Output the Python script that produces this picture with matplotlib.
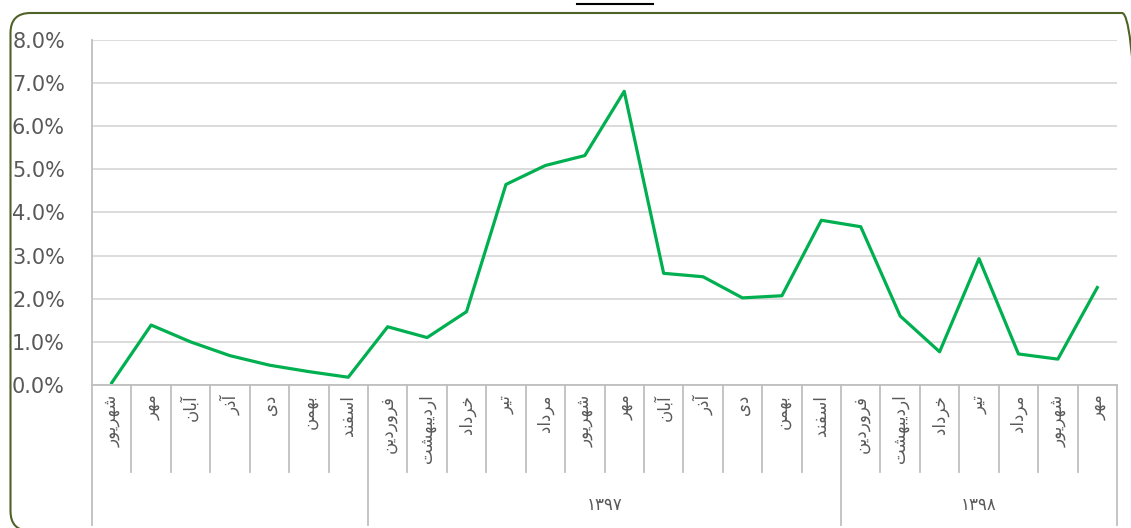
import matplotlib
matplotlib.use("Agg")
import matplotlib.pyplot as plt
from matplotlib.lines import Line2D
from matplotlib.patches import FancyBboxPatch
from matplotlib.ticker import FuncFormatter, MultipleLocator
from matplotlib.transforms import IdentityTransform, blended_transform_factory

# Monthly rate, Shahrivar 1396 .. Mehr 1398 (percent)
months = [
    "شهریور", "مهر", "آبان", "آذر", "دی", "بهمن", "اسفند",
    "فروردین", "اردیبهشت", "خرداد", "تیر", "مرداد", "شهریور",
    "مهر", "آبان", "آذر", "دی", "بهمن", "اسفند",
    "فروردین", "اردیبهشت", "خرداد", "تیر", "مرداد", "شهریور", "مهر",
]
values = [
    0.05, 1.39, 1.00, 0.68, 0.46, 0.31, 0.18,
    1.35, 1.10, 1.70, 4.65, 5.09, 5.32,
    6.81, 2.59, 2.51, 2.02, 2.07, 3.82,
    3.67, 1.60, 0.77, 2.93, 0.72, 0.60, 2.26,
]
years = ["", "۱۳۹۷", "۱۳۹۸"]
year_sizes = [7, 12, 7]

LINE = "#00B050"
GRID = "#D9D9D9"
AXIS = "#BFBFBF"
TEXT = "#595959"
FRAME = "#4F6228"

# matplotlib has no Arabic shaping, so map letters to presentation forms
# (isolated, final, initial, medial) and reverse into visual order
FORMS = {
    "\u0627": ("\uFE8D", "\uFE8E", None, None),
    "\u0622": ("\uFE81", "\uFE82", None, None),
    "\u0628": ("\uFE8F", "\uFE90", "\uFE91", "\uFE92"),
    "\u062A": ("\uFE95", "\uFE96", "\uFE97", "\uFE98"),
    "\u062E": ("\uFEA5", "\uFEA6", "\uFEA7", "\uFEA8"),
    "\u062F": ("\uFEA9", "\uFEAA", None, None),
    "\u0630": ("\uFEAB", "\uFEAC", None, None),
    "\u0631": ("\uFEAD", "\uFEAE", None, None),
    "\u0633": ("\uFEB1", "\uFEB2", "\uFEB3", "\uFEB4"),
    "\u0634": ("\uFEB5", "\uFEB6", "\uFEB7", "\uFEB8"),
    "\u0641": ("\uFED1", "\uFED2", "\uFED3", "\uFED4"),
    "\u0645": ("\uFEE1", "\uFEE2", "\uFEE3", "\uFEE4"),
    "\u0646": ("\uFEE5", "\uFEE6", "\uFEE7", "\uFEE8"),
    "\u0647": ("\uFEE9", "\uFEEA", "\uFEEB", "\uFEEC"),
    "\u0648": ("\uFEED", "\uFEEE", None, None),
    "\u06CC": ("\uFEEF", "\uFEF0", "\uFEF3", "\uFEF4"),
}


def shape(word):
    out = []
    for i, ch in enumerate(word):
        if ch not in FORMS:
            out.append(ch)
            continue
        prev = word[i - 1] if i > 0 else None
        nxt = word[i + 1] if i < len(word) - 1 else None
        jp = prev in FORMS and FORMS[prev][2] is not None
        jn = nxt in FORMS and FORMS[ch][2] is not None
        iso, fin, ini, med = FORMS[ch]
        if jp and jn:
            out.append(med)
        elif jp:
            out.append(fin)
        elif jn:
            out.append(ini)
        else:
            out.append(iso)
    return "".join(reversed(out))


W, H = 1131, 528
fig = plt.figure(figsize=(W / 100, H / 100), dpi=100)
ax = fig.add_axes([92 / W, (H - 385) / H, (1117 - 92) / W, (385 - 40) / H])

x = list(range(len(values)))
ax.plot(x, values, color=LINE, lw=2.3)

ax.set_xlim(-0.5, len(values) - 0.5)
ax.set_ylim(0, 8)
ax.yaxis.set_major_locator(MultipleLocator(1))
ax.yaxis.set_major_formatter(FuncFormatter(lambda v, p: f"{v:.1f}%"))
ax.grid(axis="y", color=GRID, lw=1.3)
ax.set_axisbelow(True)
for s in ["top", "right"]:
    ax.spines[s].set_visible(False)
for s in ["left", "bottom"]:
    ax.spines[s].set_color(AXIS)
    ax.spines[s].set_linewidth(1.3)

ax.set_xticks(x, [shape(m) for m in months], rotation=90, family="DejaVu Sans")
ax.tick_params(axis="y", length=0, pad=19.5, labelsize=15, labelcolor=TEXT)
ax.tick_params(axis="x", length=0, pad=7, labelsize=12, labelcolor=TEXT)

# category separators and year groups under the axis
trans = blended_transform_factory(ax.transData, ax.transAxes)
bounds = set()
pos = 0
for size in year_sizes:
    pos += size
    bounds.add(pos)
for k in range(0, len(values) + 1):
    low = -0.406 if (k == 0 or k in bounds) else -0.252
    ax.plot([k - 0.5, k - 0.5], [0, low], transform=trans, clip_on=False,
            color=AXIS, lw=1.3)

start = 0
for label, size in zip(years, year_sizes):
    center = start + (size - 1) / 2
    if label:
        ax.text(center, -0.348, label, transform=trans, ha="center", va="center",
                fontsize=12, color=TEXT, family="DejaVu Sans")
    start += size

# rounded chart frame and the clipped title underline
frame = FancyBboxPatch((10.5, -3), 1131.5, 518, boxstyle="round,pad=0,rounding_size=20",
                       transform=IdentityTransform(), fill=False, edgecolor=FRAME, lw=1.5)
fig.add_artist(frame)
fig.add_artist(Line2D([577, 653], [524.5, 524.5], transform=IdentityTransform(),
                      color="black", lw=1.5))

fig.savefig("out.png", dpi=100, facecolor="white")
